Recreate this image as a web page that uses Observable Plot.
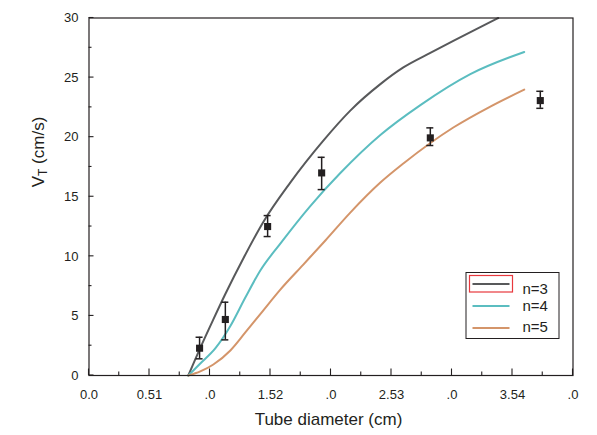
<!DOCTYPE html>
<html>
<head>
<meta charset="utf-8">
<script src="https://cdn.jsdelivr.net/npm/d3@7"></script>
<script src="https://cdn.jsdelivr.net/npm/@observablehq/plot@0.6"></script>
<style>
  body { margin: 0; background: #fff; }
  #chart { width: 597px; height: 435px; }
</style>
</head>
<body>
<div id="chart"></div>
<script>
// Axis ticks and their printed labels
const diameterTicks = [0, 0.505, 1.01, 1.515, 2.02, 2.525, 3.03, 3.535, 4.04];
const diameterTickLabels = ["0.0", "0.51", ".0", "1.52", ".0", "2.53", ".0", "3.54", ".0"];
const velocityTicks = [0, 5, 10, 15, 20, 25, 30];

// Model curves: terminal velocity vs. tube diameter for n = 3, 4, 5
const n3Diameter = [0.829, 0.929, 1.038, 1.138, 1.288, 1.455, 1.680, 1.956, 2.181, 2.432, 2.624, 2.849, 3.041, 3.225, 3.416];
const n3Velocity = [0.00, 2.32, 4.71, 6.84, 9.82, 12.89, 16.19, 19.71, 22.23, 24.45, 25.85, 27.07, 28.08, 29.03, 30.0];

const n4Diameter = [0.829, 0.929, 1.054, 1.180, 1.305, 1.430, 1.597, 1.847, 2.098, 2.432, 2.766, 3.183, 3.633];
const n4Velocity = [0.00, 1.01, 2.27, 4.15, 6.54, 8.81, 11.07, 14.22, 16.99, 20.18, 22.69, 25.29, 27.15];

const n5Diameter = [0.829, 0.929, 1.038, 1.180, 1.305, 1.447, 1.597, 1.789, 1.973, 2.181, 2.432, 2.624, 3.041, 3.350, 3.633];
const n5Velocity = [0.00, 0.34, 0.92, 2.10, 3.61, 5.37, 7.21, 9.31, 11.33, 13.67, 16.19, 17.79, 20.81, 22.57, 23.99];

// Measured velocities with error bars
const pointDiameter = [0.923, 1.138, 1.491, 1.942, 2.849, 3.767];
const pointVelocity = [2.29, 4.70, 12.50, 17.00, 19.94, 23.07];
const pointHigh = [3.21, 6.15, 13.42, 18.31, 20.78, 23.85];
const pointLow = [1.40, 2.99, 11.66, 15.60, 19.30, 22.42];

const seriesNames = ["n=3", "n=4", "n=5"];
const seriesColors = ["#58595b", "#5bbdc0", "#d4956a"];
const ink = "#231f20";

const toRows = (xs, ys) => xs.map((d, i) => ({d, v: ys[i]}));
const curves = [toRows(n3Diameter, n3Velocity), toRows(n4Diameter, n4Velocity), toRows(n5Diameter, n5Velocity)];
const points = pointDiameter.map((d, i) => ({d, v: pointVelocity[i], hi: pointHigh[i], lo: pointLow[i]}));

const plot = Plot.plot({
  width: 597,
  height: 435,
  marginLeft: 88.5,
  marginRight: 24.5,
  marginTop: 17.5,
  marginBottom: 60,
  style: {fontFamily: "'Liberation Sans', Arial, sans-serif", fontSize: "13px", color: ink, background: "#fff", overflow: "visible"},
  x: {domain: [0, 4.04], label: null},
  y: {domain: [0, 30], label: null},
  marks: [
    ...curves.map((rows, k) => Plot.line(rows, {x: "d", y: "v", stroke: seriesColors[k], strokeWidth: 2, curve: "monotone-x"})),
    Plot.ruleX(points, {x: "d", y1: "lo", y2: "hi", stroke: ink, strokeWidth: 1.5}),
    Plot.ruleY(points, {y: "hi", x1: "d", x2: "d", insetLeft: -3.5, insetRight: -3.5, stroke: ink, strokeWidth: 1.5}),
    Plot.ruleY(points, {y: "lo", x1: "d", x2: "d", insetLeft: -3.5, insetRight: -3.5, stroke: ink, strokeWidth: 1.5}),
    Plot.dot(points, {x: "d", y: "v", symbol: "square", r: 4, fill: ink, stroke: "none"}),
    Plot.frame({stroke: ink, strokeWidth: 1.2}),
    Plot.axisX(diameterTicks, {tickSize: 0, tickPadding: 14, tickFormat: d => diameterTickLabels[diameterTicks.indexOf(d)], fill: ink}),
    Plot.axisY(velocityTicks, {tickSize: 0, tickPadding: 10.5, fill: ink})
  ]
});

document.getElementById("chart").appendChild(plot);

// Inward-pointing major and minor ticks, placed through the plot's own scales
const sx = plot.scale("x"), sy = plot.scale("y");
const svg = d3.select(plot);
const tickLayer = svg.append("g").attr("stroke", ink).attr("stroke-width", 1.1);
const [xMin, xMax] = [sx.range[0], sx.range[1]];
const yBottom = sy.range[0];

const xMinor = diameterTicks.slice(1).map((t, i) => (t + diameterTicks[i]) / 2);
const yMinor = velocityTicks.slice(1).map((t, i) => (t + velocityTicks[i]) / 2);

diameterTicks.forEach(t => {
  const px = sx.apply(t);
  tickLayer.append("line").attr("x1", px).attr("x2", px).attr("y1", yBottom).attr("y2", yBottom - 6.5);
});
xMinor.forEach(t => {
  const px = sx.apply(t);
  tickLayer.append("line").attr("x1", px).attr("x2", px).attr("y1", yBottom).attr("y2", yBottom - 3.5);
});
velocityTicks.forEach(t => {
  const py = sy.apply(t);
  tickLayer.append("line").attr("x1", xMin).attr("x2", xMin + 5).attr("y1", py).attr("y2", py);
});
yMinor.forEach(t => {
  const py = sy.apply(t);
  tickLayer.append("line").attr("x1", xMin).attr("x2", xMin + 3).attr("y1", py).attr("y2", py);
});

// Axis titles
const titleFont = "'Liberation Sans', Arial, sans-serif";
svg.append("text")
  .attr("x", (xMin + xMax) / 2 - 2)
  .attr("y", 425)
  .attr("text-anchor", "middle")
  .attr("font-family", titleFont)
  .attr("font-size", 17)
  .attr("fill", ink)
  .text("Tube diameter (cm)");

const yTitle = svg.append("text")
  .attr("transform", "translate(43.5,152) rotate(-90)")
  .attr("text-anchor", "middle")
  .attr("font-family", titleFont)
  .attr("font-size", 17)
  .attr("fill", ink);
yTitle.append("tspan").text("V");
yTitle.append("tspan").attr("font-size", 12).attr("dy", 3.5).text("T");
yTitle.append("tspan").attr("dy", -3.5).text(" (cm/s)");

// Legend box inside the plot area
const legend = svg.append("g").attr("text-anchor", "start");
legend.append("rect")
  .attr("x", 466).attr("y", 272.5).attr("width", 93).attr("height", 66)
  .attr("fill", "#fff").attr("stroke", ink).attr("stroke-width", 1);
const rowLineY = [284, 306, 328];
const rowTextY = [293.5, 310.5, 332];
seriesNames.forEach((name, k) => {
  legend.append("line")
    .attr("x1", 472.5).attr("x2", 509.5).attr("y1", rowLineY[k]).attr("y2", rowLineY[k])
    .attr("stroke", seriesColors[k]).attr("stroke-width", 2.2);
  legend.append("text")
    .attr("x", 522.5).attr("y", rowTextY[k])
    .attr("text-anchor", "start")
    .attr("font-family", titleFont).attr("font-size", 15).attr("fill", ink)
    .text(name);
});
legend.append("rect")
  .attr("x", 469.5).attr("y", 275.5).attr("width", 43).attr("height", 16.5)
  .attr("fill", "none").attr("stroke", "#e8383d").attr("stroke-width", 1.2);
</script>
</body>
</html>
